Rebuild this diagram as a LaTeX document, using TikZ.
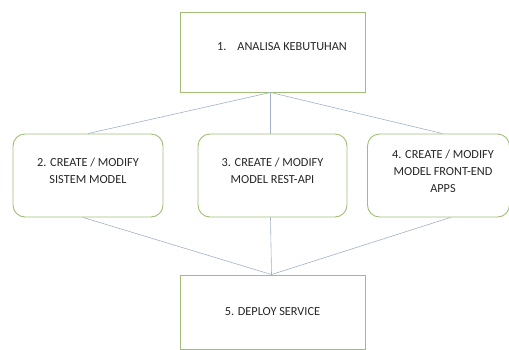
\documentclass[tikz,border=0pt]{standalone}
\usepackage{fontspec}
\setmainfont{Carlito}
\definecolor{boxgreen}{RGB}{160,190,120}
\definecolor{linkblue}{RGB}{160,178,198}
\begin{document}
\begin{tikzpicture}[x=1pt,y=-1pt,
  sqbox/.style={draw=boxgreen, line width=0.9pt, inner sep=0pt},
  rbox/.style={draw=boxgreen, line width=0.9pt, inner sep=0pt, rounded corners=12pt},
  txt/.style={font=\fontsize{12.3}{17}\selectfont, inner sep=0pt, align=center, text=black!85},
  link/.style={draw=linkblue, line width=0.6pt}]
\useasboundingbox (0,0) rectangle (509,349);
\begin{scope}
\clip (0,0) rectangle (509,349);
\node[sqbox, minimum width=185pt, minimum height=80pt] (b1) at (272.5,52) {};
\node[txt] (t1) at (282,47) {1.\hspace{11pt}ANALISA KEBUTUHAN};
\node[rbox, minimum width=150pt, minimum height=83pt] (b2) at (88,175.5) {};
\node[txt] (t2) at (88,171) {2. CREATE / MODIFY\\SISTEM MODEL};
\node[rbox, minimum width=149pt, minimum height=83pt] (b3) at (272.5,175.5) {};
\node[txt] (t3) at (272.5,171) {3. CREATE / MODIFY\\MODEL REST-API};
\node[rbox, minimum width=142pt, minimum height=83pt] (b4) at (438.5,175.5) {};
\node[txt] (t4) at (443,171) {4. CREATE / MODIFY\\MODEL FRONT-END\\APPS};
\node[sqbox, txt, draw=boxgreen, minimum width=185pt, minimum height=74pt] (b5) at (272.5,312) {5. DEPLOY SERVICE};
\coordinate (top) at ([xshift=-2pt]b1.south);
\coordinate (bot) at ([xshift=-1pt]b5.north);
\draw[link] (top) -- (b2.north);
\draw[link] (top) -- ([xshift=-2pt]b3.north);
\draw[link] (top) -- ([xshift=4pt]b4.north);
\draw[link] ([xshift=-5pt]b2.south) -- (bot);
\draw[link] ([xshift=-2pt]b3.south) -- (bot);
\draw[link] ([xshift=12pt]b4.south) -- (bot);
\end{scope}
\end{tikzpicture}
\end{document}
